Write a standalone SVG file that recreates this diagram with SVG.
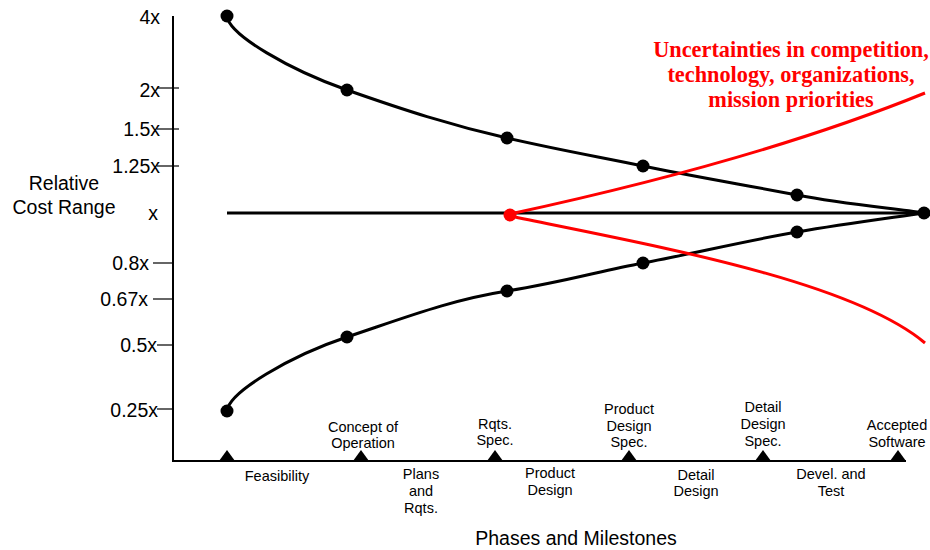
<svg xmlns="http://www.w3.org/2000/svg" width="930" height="550" viewBox="0 0 930 550">
  <style>
    .lbl { font-family: "Liberation Sans", Arial, sans-serif; font-size: 19.5px; fill: #000; }
    .ms { font-family: "Liberation Sans", Arial, sans-serif; font-size: 14.5px; fill: #000; text-anchor: middle; }
    .axis { stroke: #000; stroke-width: 2; fill: none; }
    .tick { stroke: #000; stroke-width: 1.2; }
    .curve { stroke: #000; stroke-width: 3; fill: none; }
    .red { stroke: #ff0000; stroke-width: 3; fill: none; }
    .dot { fill: #000; }
    .note { font-family: "Liberation Serif", "Times New Roman", serif; font-size: 22.3px; font-weight: bold; fill: #ff0000; text-anchor: middle; }
  </style>

  <!-- axes -->
  <g id="axes">
    <line class="axis" x1="173" y1="16" x2="173" y2="462"/>
    <line class="axis" x1="172" y1="461" x2="906" y2="461"/>
    <g>
      <line class="tick" x1="157" y1="88" x2="179" y2="88"/>
      <line class="tick" x1="157" y1="129" x2="179" y2="129"/>
      <line class="tick" x1="157" y1="166" x2="179" y2="166"/>
      <line class="tick" x1="153" y1="263" x2="173" y2="263"/>
      <line class="tick" x1="153" y1="299" x2="173" y2="299"/>
      <line class="tick" x1="157" y1="345" x2="173" y2="345"/>
      <line class="tick" x1="157" y1="409" x2="173" y2="409"/>
    </g>
    <g class="lbl" text-anchor="end">
      <text x="160" y="24">4x</text>
      <text x="160" y="97">2x</text>
      <text x="160" y="136">1.5x</text>
      <text x="160" y="173">1.25x</text>
      <text x="158" y="220">x</text>
      <text x="149" y="270">0.8x</text>
      <text x="148" y="306">0.67x</text>
      <text x="157" y="352">0.5x</text>
      <text x="158" y="417">0.25x</text>
    </g>
    <text class="lbl" x="64" y="190" text-anchor="middle">Relative</text>
    <text class="lbl" x="64" y="214" text-anchor="middle">Cost Range</text>
    <text class="lbl" x="576" y="545" text-anchor="middle" font-size="22.5">Phases and Milestones</text>
  </g>

  <!-- milestone markers -->
  <g id="milestones">
    <polygon class="dot" points="219,461 227,450 235,461"/>
    <polygon class="dot" points="353,461 361,450 369,461"/>
    <polygon class="dot" points="487,461 495,450 503,461"/>
    <polygon class="dot" points="621,461 629,450 637,461"/>
    <polygon class="dot" points="755,461 763,450 771,461"/>
    <polygon class="dot" points="890,461 898,450 906,461"/>
    <text class="ms" x="277" y="481">Feasibility</text>
    <text class="ms"><tspan x="363" y="432">Concept of</tspan><tspan x="363" y="448">Operation</tspan></text>
    <text class="ms"><tspan x="421" y="479">Plans</tspan><tspan x="421" y="496">and</tspan><tspan x="421" y="513">Rqts.</tspan></text>
    <text class="ms"><tspan x="495" y="429">Rqts.</tspan><tspan x="495" y="445">Spec.</tspan></text>
    <text class="ms"><tspan x="550" y="478">Product</tspan><tspan x="550" y="495">Design</tspan></text>
    <text class="ms"><tspan x="629" y="414">Product</tspan><tspan x="629" y="431">Design</tspan><tspan x="629" y="447">Spec.</tspan></text>
    <text class="ms"><tspan x="696" y="480">Detail</tspan><tspan x="696" y="496">Design</tspan></text>
    <text class="ms"><tspan x="763" y="412">Detail</tspan><tspan x="763" y="429">Design</tspan><tspan x="763" y="446">Spec.</tspan></text>
    <text class="ms"><tspan x="831" y="479">Devel. and</tspan><tspan x="831" y="496">Test</tspan></text>
    <text class="ms"><tspan x="897" y="430">Accepted</tspan><tspan x="897" y="447">Software</tspan></text>
  </g>

  <!-- cost range funnel -->
  <g id="connectors">
    <line class="curve" x1="227" y1="213" x2="924" y2="213"/>
    <path class="curve" d="M227,16 C229,35 290,70 347,90 S450,125 507,138 S600,157 643,166 S750,186 797,195 S890,208 924,213"/>
    <path class="curve" d="M227,411 C229,392 290,356 347,337 S450,300 507,291 S600,271 643,263 S750,240 797,232 S890,218 924,213"/>
    <path class="red" d="M510,214 Q760,160 925,93"/>
    <path class="red" d="M510,216 C650,245 850,280 925,343"/>
  </g>

  <g id="points">
    <circle class="dot" cx="227" cy="16" r="6.5"/>
    <circle class="dot" cx="347" cy="90" r="6.5"/>
    <circle class="dot" cx="507" cy="138" r="6.5"/>
    <circle class="dot" cx="643" cy="166" r="6.5"/>
    <circle class="dot" cx="797" cy="195" r="6.5"/>
    <circle class="dot" cx="924" cy="213" r="6.5"/>
    <circle class="dot" cx="227" cy="411" r="6.5"/>
    <circle class="dot" cx="347" cy="337" r="6.5"/>
    <circle class="dot" cx="507" cy="291" r="6.5"/>
    <circle class="dot" cx="643" cy="263" r="6.5"/>
    <circle class="dot" cx="797" cy="232" r="6.5"/>
    <circle cx="510" cy="215" r="6.5" fill="#ff0000"/>
  </g>

  <g id="uncertainty-note">
    <text class="note" x="791" y="57">Uncertainties in competition,</text>
    <text class="note" x="791" y="82">technology, organizations,</text>
    <text class="note" x="791" y="107">mission priorities</text>
  </g>
</svg>
